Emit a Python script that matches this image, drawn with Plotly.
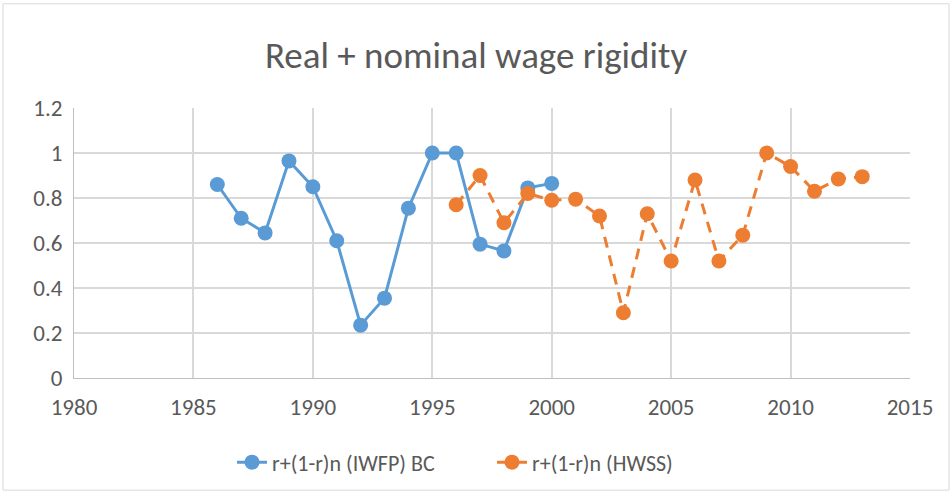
import plotly.graph_objects as go

iwfp_years = list(range(1986, 2001))
iwfp_values = [0.86, 0.71, 0.645, 0.965, 0.85, 0.61, 0.235, 0.355, 0.755, 1.0, 1.0, 0.595, 0.565, 0.845, 0.865]

hwss_years = list(range(1996, 2014))
hwss_values = [0.77, 0.90, 0.69, 0.82, 0.79, 0.795, 0.72, 0.29, 0.73, 0.52, 0.88, 0.52, 0.635, 1.0, 0.94, 0.83, 0.885, 0.895]

x_ticks = [1980, 1985, 1990, 1995, 2000, 2005, 2010, 2015]
y_ticks = [0, 0.2, 0.4, 0.6, 0.8, 1, 1.2]
y_tick_text = ["0", "0.2", "0.4", "0.6", "0.8", "1", "1.2"]

W, H = 952, 496
L, R, T, B = 74, 42, 108, 116
pw, ph = W - L - R, H - T - B

fig = go.Figure()
fig.add_trace(go.Scatter(
    x=iwfp_years, y=iwfp_values, mode="lines+markers",
    name="r+(1-r)n (IWFP) BC",
    line=dict(color="#5B9BD5", width=3),
    marker=dict(color="#5B9BD5", size=15),
))
fig.add_trace(go.Scatter(
    x=hwss_years, y=hwss_values, mode="lines+markers",
    name="r+(1-r)n (HWSS)",
    line=dict(color="#ED7D31", width=3, dash="11px,8px"),
    marker=dict(color="#ED7D31", size=15),
))

font = "Carlito, Calibri, 'Open Sans', sans-serif"
fig.update_layout(
    width=W, height=H,
    margin=dict(l=L, r=R, t=T, b=B),
    paper_bgcolor="white", plot_bgcolor="white",
    title=dict(text="Real + nominal wage rigidity", x=0.5, xanchor="center",
               y=1 - 55 / H, yanchor="middle",
               font=dict(family=font, size=37, color="#595959")),
    font=dict(family=font, color="#595959", size=22),
    xaxis=dict(range=[1980, 2015], tickvals=x_ticks, showgrid=True,
               gridcolor="#D9D9D9", gridwidth=1.5, zeroline=False,
               showline=True, linecolor="#BFBFBF", ticks="",
               ticklabelstandoff=8,
               tickfont=dict(size=23, color="#595959")),
    yaxis=dict(range=[0, 1.2], tickvals=y_ticks, ticktext=y_tick_text,
               showgrid=True, gridcolor="#D9D9D9", gridwidth=1.5,
               zeroline=False, showline=True, linecolor="#BFBFBF", ticks="",
               ticklabelstandoff=6,
               tickfont=dict(size=23, color="#595959")),
    legend=dict(orientation="h", x=0.5, xanchor="center",
                y=(380 - 465) / ph, yanchor="middle",
                font=dict(size=22, color="#595959"),
                entrywidth=215, traceorder="normal"),
    showlegend=True,
)

# outer chart border
fig.add_shape(type="rect", xref="paper", yref="paper",
              x0=(3 - L) / pw, x1=(W - 3 - L) / pw,
              y0=-(H - 3 - T - ph) / ph, y1=1 + (T - 3) / ph,
              line=dict(color="#D9D9D9", width=1))

fig.write_html("out.html", config={"displayModeBar": False},
               post_script="document.body.style.margin='0';document.body.style.overflow='hidden';")
